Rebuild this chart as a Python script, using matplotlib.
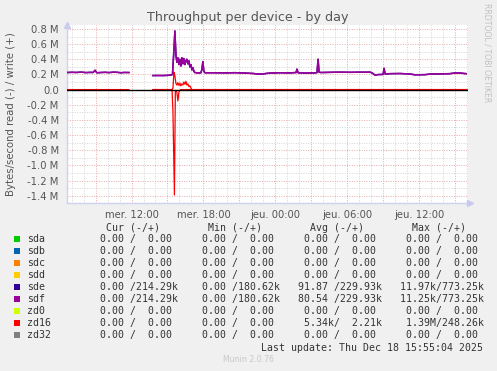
import numpy as np
import matplotlib
matplotlib.use("Agg")
import matplotlib.pyplot as plt
from matplotlib.patches import Rectangle

nan = float("nan")

# ---------------- data ----------------
title = "Throughput per device - by day"
ylabel = "Bytes/second read (-) / write (+)"
xtick_hours = [12, 18, 24, 30, 36]
xtick_labels = ["mer. 12:00", "mer. 18:00", "jeu. 00:00", "jeu. 06:00", "jeu. 12:00"]
ytick_values_M = [-1.4, -1.2, -1.0, -0.8, -0.6, -0.4, -0.2, 0.0, 0.2, 0.4, 0.6, 0.8]

# write throughput of sdf / sde (k bytes/s), hours since Wed 00:00
sdf_hours = [6.61, 7.0, 7.4, 7.8, 8.2, 8.5, 8.8, 8.95, 9.1, 9.4, 9.8, 10.1, 10.5, 10.8, 11.1, 11.4, 11.78,
             12.8,
             13.79, 14.2, 14.6, 15.0, 15.3, 15.42, 15.54, 15.62, 15.71, 15.79, 15.87, 15.96, 16.04, 16.12,
             16.21, 16.29, 16.37, 16.46, 16.54, 16.62, 16.71, 16.79, 16.87, 16.96, 17.04, 17.12, 17.21,
             17.29, 17.54, 17.79, 17.87, 17.96, 18.04, 18.14,
             18.97, 19.81, 20.64, 21.48, 22.2, 22.48, 22.98, 23.2, 23.57, 24.40, 25.24, 25.74, 25.82,
             25.91, 26.49, 27.33, 27.49, 27.58, 27.66, 27.83, 28.58, 29.42, 30.25, 31.09, 31.92, 32.09,
             32.34, 32.59, 33.01, 33.09, 33.18, 33.59, 34.43, 35.26, 35.68, 36.52, 36.93, 37.77, 38.60,
             39.02, 39.44, 39.94]
sdf_write_k = [225, 228, 226, 230, 224, 227, 226, 255, 222, 225, 228, 224, 230, 228, 222, 226, 225,
               nan,
               185, 186, 185, 188, 192, 200, 520, 773, 450, 360, 420, 330, 400, 310,
               420, 340, 410, 330, 380, 400, 340, 380, 300, 330, 260, 290, 240,
               225, 220, 222, 260, 370, 240, 222,
               222, 220, 223, 218, 212, 205, 205, 212, 218, 222, 220, 225, 270,
               222, 218, 220, 225, 400, 230, 225, 228, 230, 228, 230, 230, 220,
               190, 198, 200, 280, 205, 210, 212, 205, 195, 197, 205, 207, 210,
               220, 218, 210]
sde_hours = sdf_hours
sde_write_k = sdf_write_k

zd16_write_hours = [6.61, 11.78, 12.8, 13.79, 15.38, 15.46, 15.54, 15.62, 15.71, 15.79, 15.87, 15.96,
                    16.04, 16.12, 16.21, 16.29, 16.37, 16.46, 16.54, 16.62, 16.71, 16.79, 16.87, 16.96,
                    17.04, 40.0]
zd16_write_k = [0, 0, nan, 0, 0, 20, 230, 180, 80, 60, 90, 55,
                85, 50, 75, 60, 100, 70, 110, 60, 75, 40, 50, 20,
                0, 0]
zd16_read_hours = [13.79, 15.38, 15.46, 15.58, 15.66, 15.71, 15.79, 15.87, 15.96, 16.04, 16.12, 40.0]
zd16_read_k = [0, 0, -300, -1390, -20, -10, -40, -150, -30, -10, 0, 0]

# legend table
names = ["sda", "sdb", "sdc", "sdd", "sde", "sdf", "zd0", "zd16", "zd32"]
colors = ["#00CC00", "#0066B3", "#FF8000", "#FFCC00", "#330099", "#990099", "#CCFF00", "#FF0000", "#808080"]
cur = ["  0.00 /  0.00 "] * 4 + ["  0.00 /214.29k", "  0.00 /214.29k"] + ["  0.00 /  0.00 "] * 3
mins = ["  0.00 /  0.00 "] * 4 + ["  0.00 /180.62k", "  0.00 /180.62k"] + ["  0.00 /  0.00 "] * 3
avgs = ["  0.00 /  0.00 "] * 4 + [" 91.87 /229.93k", " 80.54 /229.93k", "  0.00 /  0.00 ",
                                  "  5.34k/  2.21k", "  0.00 /  0.00 "]
maxs = ["  0.00 /  0.00 "] * 4 + [" 11.97k/773.25k", " 11.25k/773.25k", "  0.00 /  0.00 ",
                                  "  1.39M/248.26k", "  0.00 /  0.00 "]
headers = ["Cur (-/+)", "Min (-/+)", "Avg (-/+)", "Max (-/+)"]
last_update = "Last update: Thu Dec 18 15:55:04 2025"

# ---------------- figure ----------------
W, H = 497, 371
fig = plt.figure(figsize=(W / 100, H / 100), dpi=100, facecolor="#F0F0F0")

def fx(x):
    return x / W

def fy(y):
    return 1 - y / H

L, R, T, B = 67, 468, 25, 203
ax = fig.add_axes([fx(L), fy(B), (R - L) / W, (B - T) / H])
ax.set_facecolor("white")

ax.set_xlim(6.61, 40.1)
ax.set_ylim(-1.496e6, 0.852e6)

# grid
major_c = "#E8A8A8"
minor_c = "#D4D4D4"
for h in np.arange(7, 41, 1):
    ax.axvline(h, color=major_c if h % 3 == 0 else minor_c, lw=0.7, ls=(0, (1, 1.5)), zorder=1)
for v in np.arange(-14, 9, 1):
    ax.axhline(v * 1e5, color=major_c if v % 2 == 0 else minor_c, lw=0.7, ls=(0, (1, 1.5)), zorder=1)

ax.plot(sde_hours, np.array(sde_write_k) * 1e3, color=colors[4], lw=1.1, zorder=3)
ax.plot(sdf_hours, np.array(sdf_write_k) * 1e3, color=colors[5], lw=1.1, zorder=4)
ax.plot(zd16_write_hours, np.array(zd16_write_k) * 1e3, color=colors[7], lw=0.9, zorder=5)
ax.plot(zd16_read_hours, np.array(zd16_read_k) * 1e3, color=colors[7], lw=0.9, zorder=5)
ax.axhline(0, color="black", lw=1.0, zorder=6)

# axes styling
for s in ["top", "right"]:
    ax.spines[s].set_visible(False)
for s in ["left", "bottom"]:
    ax.spines[s].set_color("#D0D0F0")
    ax.spines[s].set_linewidth(1.0)
ax.plot([0], [1.0], marker="^", color="#C8C8F0", ms=4, transform=ax.transAxes, clip_on=False)
ax.plot([1.005], [0], marker=">", color="#C8C8F0", ms=4, transform=ax.transAxes, clip_on=False)

ax.set_xticks(xtick_hours)
ax.set_xticklabels(xtick_labels)
ax.set_yticks([v * 1e6 for v in ytick_values_M])
ax.set_yticklabels([("0.0" if v == 0 else f"{v:.1f} M") for v in ytick_values_M])
ax.tick_params(axis="both", length=0, labelsize=7.2, labelcolor="#555555")
ax.tick_params(axis="y", pad=6)
ax.tick_params(axis="x", pad=5)

fig.text(fx(248), fy(18), title, ha="center", va="center", fontsize=9.2, color="#555555")
fig.text(fx(11), fy(114), ylabel, ha="center", va="center", rotation=90, fontsize=7.3, color="#555555")
fig.text(fx(487.5), fy(53), "RRDTOOL / TOBI OETIKER", ha="center", va="center", rotation=270,
         fontsize=5.6, color="#C0C0C0")

# legend table
mono = "DejaVu Sans Mono"
fs = 7.15
cw = 5.97
col_x = [88.4, 190.4, 292.5, 394.2]
txtc = "#333333"
for i, hd in enumerate(headers):
    fig.text(fx(col_x[i] + 7.5 * cw), fy(227.7), hd, ha="center", va="center", family=mono, fontsize=fs, color=txtc)
for r, nm in enumerate(names):
    yc = 239.3 + 12 * r
    fig.add_artist(Rectangle((fx(14), fy(yc + 3)), 6 / W, 6 / H, transform=fig.transFigure,
                             facecolor=colors[r], edgecolor="none"))
    fig.text(fx(26.7), fy(yc), nm, ha="left", va="center", family=mono, fontsize=fs, color=txtc)
    for c, col in enumerate([cur, mins, avgs, maxs]):
        fig.text(fx(col_x[c]), fy(yc), col[r], ha="left", va="center", family=mono, fontsize=fs, color=txtc)
fig.text(fx(482.7), fy(347.7), last_update, ha="right", va="center", family=mono, fontsize=fs, color=txtc)
fig.text(fx(248), fy(360), "Munin 2.0.76", ha="center", va="center", fontsize=5.6, color="#C8C8C8")

fig.savefig("out.png", dpi=100, facecolor=fig.get_facecolor())
